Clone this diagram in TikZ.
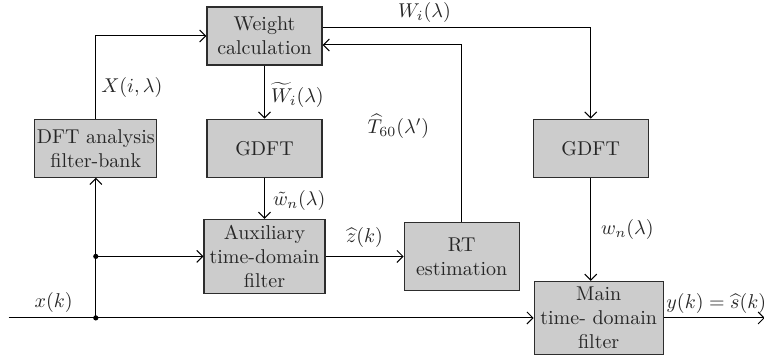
\documentclass[tikz,border=0pt]{standalone}
\usepackage{amsmath,amssymb}
\usepackage{tikz}
\usetikzlibrary{arrows.meta,positioning,calc}
\definecolor{boxgray}{RGB}{204,204,204}
\definecolor{edge}{RGB}{45,45,45}
\tikzset{
  blk/.style={draw=edge,fill=boxgray,line width=0.6pt,align=center,
    inner sep=1pt,text=black!85},
  lbl/.style={inner sep=1pt,text=black!85},
  flow/.style={-{Straight Barb[length=3pt,width=6pt]},line width=0.5pt},
}

\begin{document}
\begin{tikzpicture}[node distance=20pt]
  \useasboundingbox (0,0) rectangle (382pt,-179pt);

  \node[blk,minimum width=57.5pt,minimum height=29pt] (weight) at (132.25pt,-18pt)
    {Weight\\ calculation};
  \node[blk,minimum width=57.5pt,minimum height=29pt,below=26.5pt of weight] (gdftl) {GDFT};
  \node[blk,minimum width=61pt,minimum height=29pt,left=24.5pt of gdftl] (dft)
    {DFT analysis\\ filter-bank};
  \node[blk,minimum width=60.5pt,minimum height=37pt,below=20.5pt of gdftl] (aux)
    {Auxiliary\\ time-domain\\ filter};
  \node[blk,minimum width=57.5pt,minimum height=34pt,right=39pt of aux] (rt)
    {RT\\ estimation};
  \node[blk,minimum width=57.5pt,minimum height=29pt,right=105pt of gdftl] (gdftr) {GDFT};
  \node[blk,minimum width=64.5pt,minimum height=36.5pt,below=51.5pt of gdftr,xshift=4pt] (main)
    {Main\\ time- domain\\ filter};

  \coordinate (in) at ([xshift=-262.5pt]main.west);
  \coordinate (out) at ([xshift=50.5pt]main.east);
  \coordinate (j1) at (dft.south |- main.west);
  \coordinate (j2) at (dft.south |- aux.west);

  \draw[flow] (dft.north) |- node[lbl,pos=0.19,right=1.5pt] {$X(i,\lambda)$} (weight.west);
  \draw[flow] (weight) -- node[lbl,pos=0.55,right=2pt] {$\widetilde{W}_i(\lambda)$} (gdftl);
  \draw[flow] (gdftl) -- node[lbl,pos=0.55,right=3pt] {$\tilde{w}_n(\lambda)$} (aux);
  \draw[flow] (aux) -- node[lbl,above=3pt] {$\widehat{z}(k)$} (rt);
  \draw[flow] ([yshift=4pt]weight.east) -| node[lbl,pos=0.19,above=1.5pt] {$W_i(\lambda)$} (gdftr.north);
  \draw[flow] (rt.north) |- node[lbl,pos=0.27,left=15pt] {$\widehat{T}_{60}(\lambda')$} ([yshift=-4.5pt]weight.east);
  \draw[flow] (gdftr.south) -- node[lbl,right=4pt] {$w_n(\lambda)$} (gdftr.south |- main.north);
  \draw[flow] (in) -- node[lbl,pos=0.086,above=1.5pt] {$x(k)$} (main.west);
  \draw[flow] (main.east) -- node[lbl,pos=0.52,above=1pt] {$y(k)=\widehat{s}(k)$} (out);
  \draw[flow] (j1) -- (dft.south);
  \draw[flow] (j2) -- (aux.west);
  \fill (j1) circle (1.3pt) (j2) circle (1.3pt);
\end{tikzpicture}
\end{document}
